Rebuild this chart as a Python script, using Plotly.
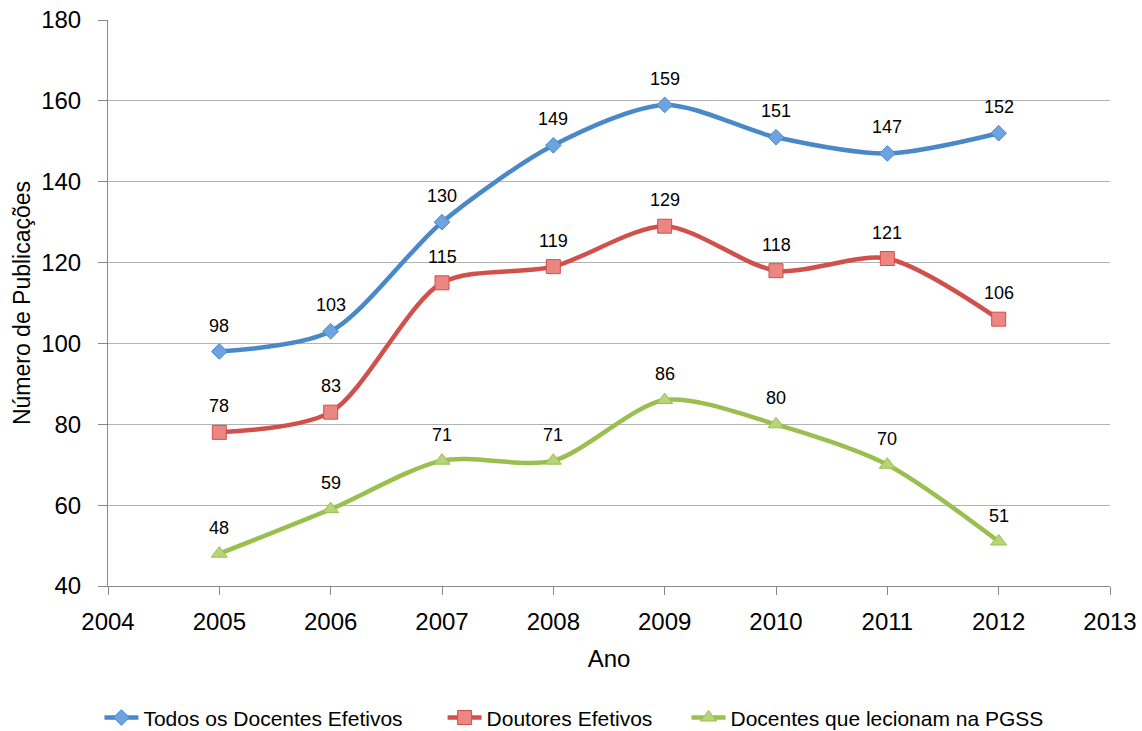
import plotly.graph_objects as go

anos = [2005, 2006, 2007, 2008, 2009, 2010, 2011, 2012]
todos = [98, 103, 130, 149, 159, 151, 147, 152]
doutores = [78, 83, 115, 119, 129, 118, 121, 106]
pgss = [48, 59, 71, 71, 86, 80, 70, 51]

nomes = ["Todos os Docentes Efetivos", "Doutores Efetivos", "Docentes que lecionam na PGSS"]
cores_linha = ["#4A89C8", "#D0504C", "#9BBF4F"]
cores_marc = ["#6FA3DF", "#EC8683", "#B6D577"]
simbolos = ["diamond", "square", "triangle-up"]
tamanhos = [12, 14, 14]
espacos = ["\u00a0" * 6, "\u00a0" * 5, ""]

FONT = "Liberation Sans"

fig = go.Figure()
for nome, ys, cl, cm, sb, sz, esp in zip(nomes, [todos, doutores, pgss], cores_linha, cores_marc, simbolos, tamanhos, espacos):
    fig.add_trace(go.Scatter(
        x=anos, y=ys, name=nome + esp, mode="lines+markers",
        line=dict(color=cl, width=4.5, shape="spline", smoothing=0.8),
        marker=dict(symbol=sb, size=sz, color=cm, line=dict(color=cl, width=1)),
        cliponaxis=False,
    ))
    for xv, yv in zip(anos, ys):
        fig.add_annotation(x=xv, y=yv, text=str(yv), showarrow=False,
                           yshift=26, font=dict(family=FONT, size=18, color="black"))

fig.update_layout(
    width=1142, height=731,
    margin=dict(l=108, r=32, t=20, b=145, autoexpand=False),
    paper_bgcolor="white", plot_bgcolor="white",
    font=dict(family=FONT, color="black"),
    legend=dict(orientation="h", x=0.465, xanchor="center", y=-0.233, yanchor="middle",
                font=dict(family=FONT, size=21), itemwidth=34, tracegroupgap=0),
    showlegend=True,
)
fig.update_xaxes(
    range=[2004, 2013], tickmode="linear", tick0=2004, dtick=1,
    showgrid=False, showline=True, linecolor="#888888", linewidth=1,
    ticks="outside", ticklen=8, tickcolor="#888888", ticklabelstandoff=6,
    tickfont=dict(size=24), title=dict(text="Ano", font=dict(size=24), standoff=16),
    zeroline=False,
)
fig.update_yaxes(
    range=[40, 180], tickmode="linear", tick0=40, dtick=20,
    showgrid=True, gridcolor="#B3B3B3", gridwidth=1,
    showline=True, linecolor="#888888", linewidth=1,
    ticks="outside", ticklen=9, tickcolor="#888888", ticklabelstandoff=12,
    tickfont=dict(size=24), title=dict(text="Número de Publicações", font=dict(size=23), standoff=4),
    zeroline=False,
)

fig.write_html("out.html")
